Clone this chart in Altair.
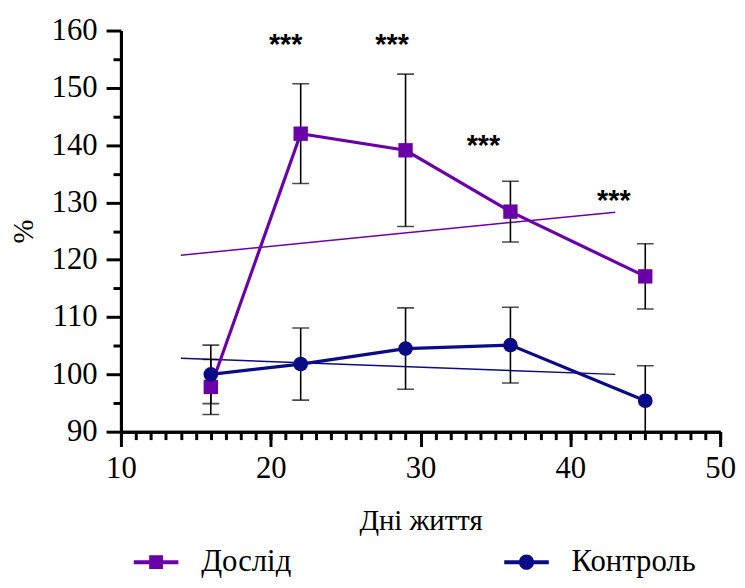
import altair as alt
import pandas as pd

# ---- data ----
days = [16, 22, 29, 36, 45]
exp_mean = [97.8, 142.0, 139.1, 128.4, 117.1]
exp_sd = [4.8, 8.7, 13.3, 5.3, 5.7]
ctrl_mean = [100.0, 101.8, 104.5, 105.1, 95.4]
ctrl_sd = [5.1, 6.3, 7.1, 6.6, 6.1]

trend_x = [14, 43]
exp_trend = [120.8, 128.3]
ctrl_trend = [102.8, 100.0]

star_x = [21.0, 28.1, 34.2, 42.9]
star_y = [157.9, 157.9, 140.3, 130.8]
star_text = ["***", "***", "***", "***"]

groups = ["Дослід", "Контроль"]
colors = ["#6a00a8", "#0b0b86"]

x_major = [10, 20, 30, 40, 50]
x_minor = list(range(10, 51))
y_major = [90, 100, 110, 120, 130, 140, 150, 160]
y_minor = [95, 105, 115, 125, 135, 145, 155]

# ---- tables ----
rows = []
for g, means, sds in [(groups[0], exp_mean, exp_sd), (groups[1], ctrl_mean, ctrl_sd)]:
    for d, m, s in zip(days, means, sds):
        rows.append({"day": d, "group": g, "mean": m, "lo": m - s, "hi": m + s})
df = pd.DataFrame(rows)

trend_rows = []
for g, vals in [(groups[0], exp_trend), (groups[1], ctrl_trend)]:
    for xv, yv in zip(trend_x, vals):
        trend_rows.append({"day": xv, "group": g, "val": yv})
tdf = pd.DataFrame(trend_rows)

sdf = pd.DataFrame({"day": star_x, "val": star_y, "txt": star_text})

SERIF = "'Liberation Serif', 'Times New Roman', 'DejaVu Serif', serif"

xs = alt.Scale(domain=[10, 50], nice=False, zero=False)
ys = alt.Scale(domain=[90, 160], nice=False, zero=False)

sq_path = "M-1,-0.09H1V0.09H-1Z M-0.31,-0.31H0.31V0.31H-0.31Z"
ci_path = "M-1,-0.09H1V0.09H-1Z M0.34,0A0.34,0.34 0 1,1 -0.34,0A0.34,0.34 0 1,1 0.34,0Z"

minor_x_axis = alt.Axis(values=x_minor, orient="bottom", labels=False, title=None,
                        tickSize=8, grid=False)
minor_y_axis = alt.Axis(values=y_minor, orient="left", labels=False, title=None,
                        tickSize=8, grid=False)
major_x_axis = alt.Axis(values=x_major, orient="bottom", tickSize=15, title="Дні життя",
                        labelPadding=7, titlePadding=24, labelFlush=False, grid=False,
                        format="d", labelOverlap=False, labelFont=SERIF, labelFontSize=31,
                        titleFont=SERIF, titleFontSize=29)
major_y_axis = alt.Axis(values=y_major, orient="left", tickSize=15, title="%",
                        labelPadding=9, titlePadding=13, labelFlush=False, grid=False,
                        format="d", labelOverlap=False, labelFont=SERIF, labelFontSize=31,
                        titleFont=SERIF, titleFontSize=29)

X0 = alt.X("day:Q", scale=xs, axis=None)

layers = []
for i, g in enumerate(groups):
    layers.append(alt.Chart(tdf).transform_filter(alt.datum.group == g).mark_line(
        strokeWidth=1.5, color=colors[i]).encode(
        x=alt.X("day:Q", scale=xs, axis=minor_x_axis if i == 0 else None),
        y=alt.Y("val:Q", scale=ys, axis=minor_y_axis if i == 0 else None),
    ))

err = alt.Chart(df).mark_rule(color="black", strokeWidth=1.6, clip=True).encode(
    x=X0, y=alt.Y("lo:Q", scale=ys, axis=None), y2="hi:Q",
)
cap_lo = alt.Chart(df).mark_tick(color="black", orient="horizontal", size=17,
                                 thickness=1.6, clip=True).encode(
    x=X0, y=alt.Y("lo:Q", scale=ys, axis=None),
)
cap_hi = alt.Chart(df).mark_tick(color="black", orient="horizontal", size=17,
                                 thickness=1.6, clip=True).encode(
    x=X0, y=alt.Y("hi:Q", scale=ys, axis=None),
)
layers += [err, cap_lo, cap_hi]

for i, g in enumerate(groups):
    layers.append(alt.Chart(df).transform_filter(alt.datum.group == g).mark_line(
        strokeWidth=3.2, color=colors[i]).encode(
        x=alt.X("day:Q", scale=xs, axis=major_x_axis if i == 0 else None),
        y=alt.Y("mean:Q", scale=ys, axis=major_y_axis if i == 0 else None),
    ))
for i, (g, shp, sz) in enumerate(zip(groups, ["square", "circle"], [210, 220])):
    layers.append(alt.Chart(df).transform_filter(alt.datum.group == g).mark_point(
        filled=True, size=sz, opacity=1, shape=shp, color=colors[i]).encode(
        x=X0, y=alt.Y("mean:Q", scale=ys, axis=None),
    ))

legend = alt.Legend(
    title=None, orient="none", direction="horizontal",
    legendX=13, legendY=514, symbolSize=2025, labelOffset=23, columnPadding=214,
    labelFont=SERIF, labelFontSize=31, labelColor="black", padding=0,
    symbolStrokeWidth=0, symbolOpacity=1,
)
leg = alt.Chart(df).mark_point(filled=True, opacity=1, size=0).encode(
    x=X0, y=alt.Y("mean:Q", scale=ys, axis=None),
    color=alt.Color("group:N", scale=alt.Scale(domain=groups, range=colors), legend=legend),
    shape=alt.Shape("group:N", scale=alt.Scale(domain=groups, range=[sq_path, ci_path]),
                    legend=legend),
)
layers.append(leg)

stars = alt.Chart(sdf).mark_text(font="Liberation Sans", fontSize=29, fontWeight="bold",
                                 baseline="alphabetic", dy=12, color="black").encode(
    x=X0, y=alt.Y("val:Q", scale=ys, axis=None), text="txt:N",
)
layers.append(stars)

chart = alt.layer(*layers).resolve_axis(
    x="independent", y="independent"
).properties(
    width=605, height=405,
    padding={"left": 114, "top": 20, "right": 17, "bottom": 147},
    autosize=alt.AutoSizeParams(type="none"),
).configure_axis(
    domainWidth=3, domainColor="black", tickWidth=3, tickColor="black",
    labelFont=SERIF, labelFontSize=31, labelColor="black",
    titleFont=SERIF, titleFontSize=29, titleFontWeight="normal",
    titleColor="black",
).configure_view(stroke=None)

chart.save("out.html", embed_options={"renderer": "svg", "actions": False})
